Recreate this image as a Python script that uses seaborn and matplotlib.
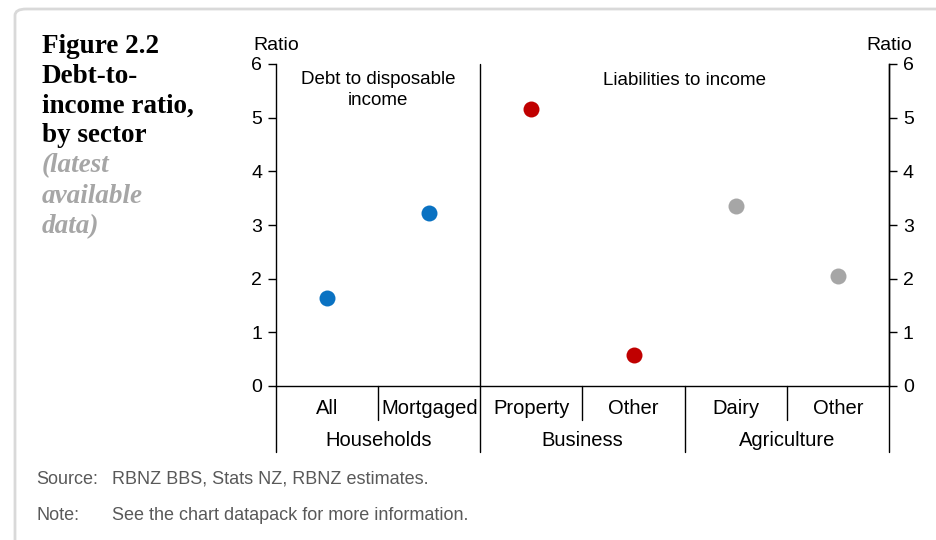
import matplotlib
matplotlib.use("Agg")
import matplotlib.pyplot as plt
import matplotlib.transforms as mtransforms
from matplotlib.patches import FancyBboxPatch
import seaborn as sns
import pandas as pd

# ---- data ----
keys = ["hh_all", "hh_mort", "bus_prop", "bus_other", "agri_dairy", "agri_other"]
sub_labels = ["All", "Mortgaged", "Property", "Other", "Dairy", "Other"]
groups = ["Households", "Households", "Business", "Business", "Agriculture", "Agriculture"]
group_names = ["Households", "Business", "Agriculture"]
values = [1.64, 3.22, 5.16, 0.58, 3.35, 2.05]
y_ticks = [0, 1, 2, 3, 4, 5, 6]
colors = {"Households": "#0a72c2", "Business": "#c00000", "Agriculture": "#a6a6a6"}

df = pd.DataFrame({"key": keys, "value": values, "group": groups})

sns.set_theme(style="white")
plt.rcParams["font.family"] = ["Liberation Sans", "DejaVu Sans"]

W, H = 937, 540
fig = plt.figure(figsize=(W / 100, H / 100), dpi=100)

def fx(px):
    return px / W

def fy(py):
    return 1 - py / H

# rounded border
border = FancyBboxPatch((fx(15), fy(560)), fx(960), fy(9) - fy(560),
                        boxstyle="round,pad=0,rounding_size=0.012",
                        transform=fig.transFigure, fill=False,
                        edgecolor="#d9d9d9", linewidth=2, zorder=0)
fig.patches.append(border)

x0, x1, y0, y1 = 276, 889, 64, 386
ax = fig.add_axes([fx(x0), fy(y1), fx(x1) - fx(x0), fy(y0) - fy(y1)])

sns.stripplot(data=df, x="key", y="value", hue="group", order=keys,
              palette=colors, jitter=False, size=11.5, linewidth=0,
              legend=False, ax=ax, zorder=5)

TICK_FS = 14
LAB_FS = 14.5
ax.set_xlim(-0.5, len(keys) - 0.5)
ax.set_ylim(0, 6)
ax.set_yticks(y_ticks)
ax.set_yticklabels([str(t) for t in y_ticks], fontsize=TICK_FS, color="#000000")
ax.set_xticks([])
ax.set_xlabel("")
ax.set_ylabel("")
ax.spines["top"].set_visible(False)
for s in ["left", "right", "bottom"]:
    ax.spines[s].set_color("#000000")
    ax.spines[s].set_linewidth(1.0)
ax.tick_params(axis="y", direction="out", length=6, width=1, color="#000000",
               left=True, pad=4)

ax2 = ax.twinx()
ax2.set_ylim(0, 6)
ax2.set_yticks(y_ticks)
ax2.set_yticklabels([str(t) for t in y_ticks], fontsize=TICK_FS, color="#000000")
ax2.tick_params(axis="y", direction="out", length=6, width=1, color="#000000",
                right=True, pad=4)
for s in ["top", "left", "bottom"]:
    ax2.spines[s].set_visible(False)
ax2.spines["right"].set_color("#000000")
ax2.spines["right"].set_linewidth(1.0)
ax2.grid(False)
ax.grid(False)

# vertical divider between households and rest inside plot
ax.axvline(1.5, color="#000000", linewidth=1.0, clip_on=False)

trans = mtransforms.blended_transform_factory(ax.transData, ax.transAxes)
h = fy(y0) - fy(y1)
def ay(py):
    return (fy(py) - fy(y1)) / h

# lines in category area
for xv in [-0.5, 1.5, 3.5, 5.5]:
    ax.plot([xv, xv], [0, ay(452)], transform=trans, color="#000000",
            linewidth=1.0, clip_on=False)
for xv in [0.5, 2.5, 4.5]:
    ax.plot([xv, xv], [0, ay(420)], transform=trans, color="#000000",
            linewidth=1.0, clip_on=False)

for i, lab in enumerate(sub_labels):
    ax.text(i, ay(408), lab, transform=trans, ha="center", va="center",
            fontsize=LAB_FS, color="#000000")
for gi, g in enumerate(group_names):
    ax.text(gi * 2 + 0.5, ay(441), g, transform=trans, ha="center",
            va="center", fontsize=LAB_FS, color="#000000")

ax.text(0.5, ay(90), "Debt to disposable\nincome", transform=trans,
        ha="center", va="center", fontsize=13.5, linespacing=1.3,
        color="#000000")
ax.text(3.5, ay(80), "Liabilities to income", transform=trans,
        ha="center", va="center", fontsize=13.5, color="#000000")

fig.text(fx(276), fy(46), "Ratio", ha="center", va="center", fontsize=TICK_FS,
         color="#000000")
fig.text(fx(889), fy(46), "Ratio", ha="center", va="center", fontsize=TICK_FS,
         color="#000000")

# title block
serif = ["Liberation Serif", "DejaVu Serif"]
title_lines = [("Figure 2.2", 53), ("Debt-to-", 83), ("income ratio,", 113),
               ("by sector", 142)]
for t, py in title_lines:
    fig.text(fx(42), fy(py), t, ha="left", va="baseline", fontsize=19.5,
             fontweight="bold", family=serif, color="#000000")
sub_lines = [("(latest", 172), ("available", 203), ("data)", 233)]
for t, py in sub_lines:
    fig.text(fx(42), fy(py), t, ha="left", va="baseline", fontsize=19.5,
             fontweight="bold", style="italic", family=serif, color="#a6a6a6")

NOTE_FS = 13
fig.text(fx(36), fy(479), "Source:", ha="left", va="center", fontsize=NOTE_FS,
         color="#595959")
fig.text(fx(112), fy(479), "RBNZ BBS, Stats NZ, RBNZ estimates.", ha="left",
         va="center", fontsize=NOTE_FS, color="#595959")
fig.text(fx(36), fy(515), "Note:", ha="left", va="center", fontsize=NOTE_FS,
         color="#595959")
fig.text(fx(112), fy(515), "See the chart datapack for more information.",
         ha="left", va="center", fontsize=NOTE_FS, color="#595959")

fig.savefig("out.png", dpi=100)
